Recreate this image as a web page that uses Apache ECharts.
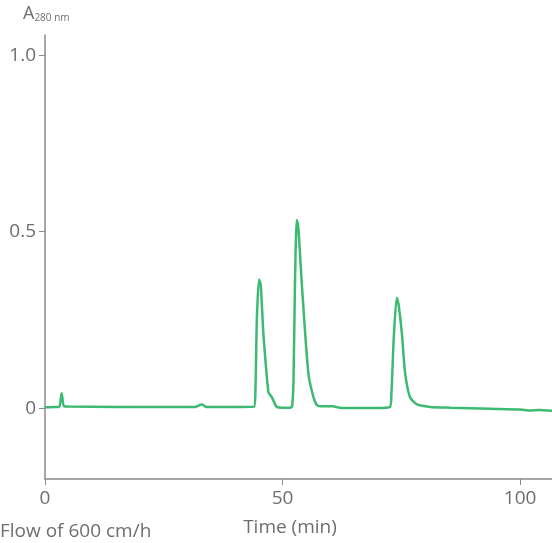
<!DOCTYPE html>
<html>
<head>
<meta charset="utf-8">
<style>
  html, body { margin: 0; padding: 0; background: #fff; }
  #chart { width: 552px; height: 543px; }
</style>
<script src="https://cdn.jsdelivr.net/npm/echarts@6/dist/echarts.min.js"></script>
</head>
<body>
<div id="chart"></div>
<script>
// Chromatogram trace: elution time (min) and absorbance at 280 nm
var timeMin = [0, 2.1, 3.0, 3.5, 4.0, 5.0, 15, 25, 31.6, 33.0, 34.0, 40, 44.0,
  44.3, 44.6, 45.05, 45.4, 45.96, 47.0, 47.3, 47.73, 48.3, 48.78, 50.0, 51.6,
  52.0, 52.3, 52.6, 53.0, 53.3, 54.04, 55.43, 56.5, 57.3, 58.5, 60.5, 62, 66,
  70, 72.6, 72.9, 73.4, 74.04, 74.4, 75.1, 75.8, 76.8, 78.3, 81.05, 85.3, 93.7,
  100, 102.1, 104, 106.7];
var absorbance = [0.003, 0.004, 0.004, 0.043, 0.006, 0.005, 0.004, 0.004, 0.004, 0.011, 0.004, 0.004, 0.005,
  0.06, 0.26, 0.365, 0.35, 0.212, 0.046, 0.04, 0.032, 0.015, 0.004, 0.002, 0.002,
  0.006, 0.08, 0.35, 0.533, 0.515, 0.354, 0.099, 0.032, 0.0085, 0.006, 0.006, 0.002, 0.001,
  0.001, 0.004, 0.04, 0.2, 0.313, 0.295, 0.212, 0.099, 0.032, 0.011, 0.004, 0.002, -0.001,
  -0.003, -0.006, -0.005, -0.007];
var yTicks = [0, 0.5, 1.0];
var xTicks = [0, 50, 100];

var axisGray = '#8a8a8a';
var textGray = '#6e6e6e';
var fontFam = '"Open Sans", sans-serif';

var points = timeMin.map(function (t, i) { return [t, absorbance[i]]; });

var chart = echarts.init(document.getElementById('chart'));
chart.setOption({
  animation: false,
  grid: { left: 45, right: 0, top: 35, bottom: 64, containLabel: false },
  xAxis: {
    type: 'value',
    min: 0,
    max: 106.7,
    splitLine: { show: false },
    axisLine: { onZero: false, lineStyle: { color: axisGray, width: 1.5 } },
    axisTick: { show: true, length: 6, customValues: xTicks, lineStyle: { color: axisGray } },
    axisLabel: {
      customValues: xTicks,
      color: textGray, fontSize: 19, fontFamily: fontFam, margin: 10
    }
  },
  yAxis: {
    type: 'value',
    min: -0.2,
    max: 1.057,
    splitLine: { show: false },
    axisLine: { show: true, onZero: false, lineStyle: { color: axisGray, width: 1.5 } },
    axisTick: { show: true, length: 6, customValues: yTicks, lineStyle: { color: axisGray } },
    axisLabel: {
      customValues: yTicks,
      color: textGray, fontSize: 19, fontFamily: fontFam, margin: 9,
      formatter: function (v) { return v === 0 ? '0' : v.toFixed(1); }
    }
  },
  series: [{
    type: 'line',
    data: points,
    showSymbol: false,
    smooth: 0.25,
    lineStyle: { color: '#3dba72', width: 2.5 },
    clip: true
  }],
  graphic: [
    {
      type: 'text', left: 23, top: 5,
      style: {
        text: '{a|A}{s|280 nm}',
        rich: {
          a: { fontSize: 18, fill: textGray, fontFamily: fontFam, verticalAlign: 'bottom' },
          s: { fontSize: 10, fill: textGray, fontFamily: fontFam, padding: [13, 0, 0, 0] }
        }
      }
    },
    {
      type: 'text', left: 0, top: 522,
      style: { text: 'Flow of 600 cm/h', fontSize: 19, fill: textGray, fontFamily: fontFam }
    },
    {
      type: 'text', x: 290, y: 528,
      style: { text: 'Time (min)', fontSize: 19, fill: textGray, fontFamily: fontFam,
        align: 'center', verticalAlign: 'middle' }
    }
  ]
});
</script>
</body>
</html>
